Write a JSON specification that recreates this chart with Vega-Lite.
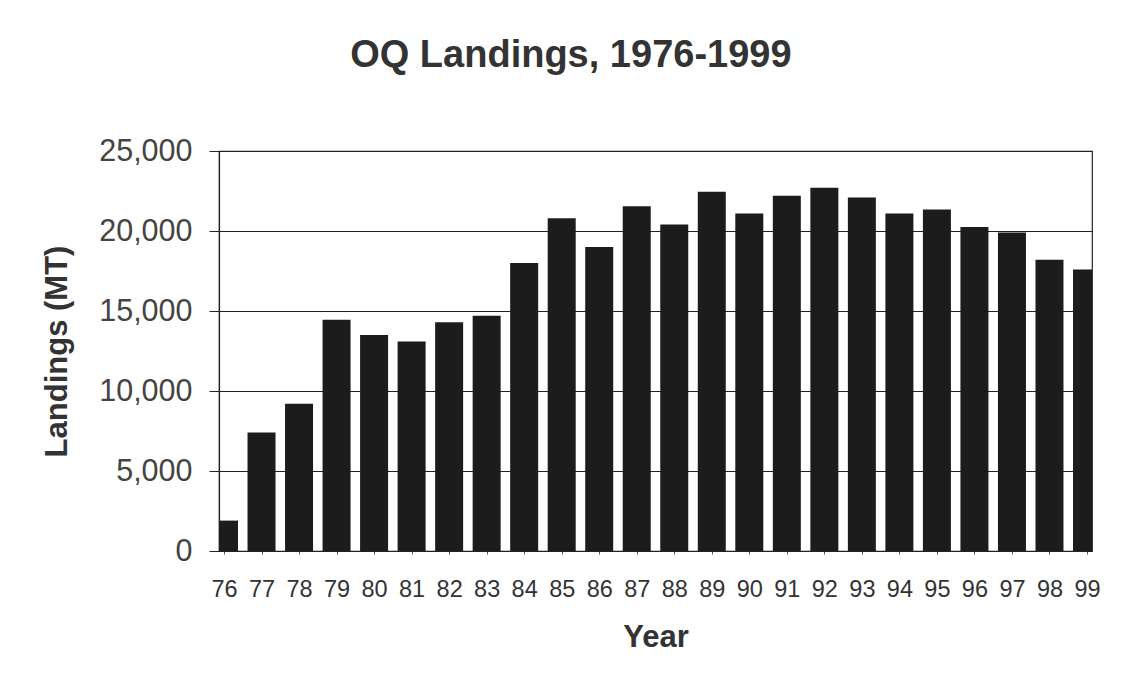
{
  "$schema": "https://vega.github.io/schema/vega-lite/v6.json",
  "width": 873,
  "height": 400,
  "padding": {"left": 41, "top": 37, "right": 40, "bottom": 30},
  "background": "white",
  "title": {
    "text": "OQ Landings, 1976-1999",
    "anchor": "middle",
    "frame": "bounds",
    "font": "Liberation Sans",
    "fontSize": 38,
    "fontWeight": "bold",
    "color": "#333333",
    "offset": 61
  },
  "config": {
    "view": {"stroke": "#222222", "strokeWidth": 1.2},
    "font": "Liberation Sans"
  },
  "data": {
    "values": [
      {"year": 1976, "landings": 1900},
      {"year": 1977, "landings": 7400},
      {"year": 1978, "landings": 9200},
      {"year": 1979, "landings": 14450},
      {"year": 1980, "landings": 13500},
      {"year": 1981, "landings": 13100},
      {"year": 1982, "landings": 14300},
      {"year": 1983, "landings": 14700},
      {"year": 1984, "landings": 18000},
      {"year": 1985, "landings": 20800},
      {"year": 1986, "landings": 19000},
      {"year": 1987, "landings": 21550},
      {"year": 1988, "landings": 20400},
      {"year": 1989, "landings": 22450},
      {"year": 1990, "landings": 21100},
      {"year": 1991, "landings": 22200},
      {"year": 1992, "landings": 22700},
      {"year": 1993, "landings": 22100},
      {"year": 1994, "landings": 21100},
      {"year": 1995, "landings": 21350},
      {"year": 1996, "landings": 20250},
      {"year": 1997, "landings": 19900},
      {"year": 1998, "landings": 18200},
      {"year": 1999, "landings": 17600}
    ]
  },
  "mark": {"type": "bar", "size": 28, "color": "#1c1c1c", "clip": true},
  "encoding": {
    "x": {
      "field": "year",
      "type": "quantitative",
      "scale": {"domain": [1976, 1999], "nice": false, "zero": false},
      "axis": {
        "title": "Year",
        "values": [1976,1977,1978,1979,1980,1981,1982,1983,1984,1985,1986,1987,1988,1989,1990,1991,1992,1993,1994,1995,1996,1997,1998,1999],
        "format": "d",
        "labelExpr": "substring(datum.label, 2)",
        "labelFontSize": 23.5,
        "labelColor": "#333333",
        "labelPadding": 23,
        "tickSize": 3,
        "tickColor": "#555555",
        "domainColor": "#222222",
        "domainWidth": 1.2,
        "grid": false,
        "titleFontSize": 31,
        "titleFontWeight": "bold",
        "titleColor": "#333333",
        "titlePadding": 22
      }
    },
    "y": {
      "field": "landings",
      "type": "quantitative",
      "scale": {"domain": [0, 25000]},
      "axis": {
        "title": "Landings (MT)",
        "values": [0, 5000, 10000, 15000, 20000, 25000],
        "format": ",d",
        "labelFontSize": 30.5,
        "labelColor": "#444444",
        "labelPadding": 17,
        "tickSize": 10,
        "tickColor": "#222222",
        "domainColor": "#222222",
        "domainWidth": 1.2,
        "grid": true,
        "gridColor": "#222222",
        "gridWidth": 1.2,
        "gridOpacity": 1,
        "titleFontSize": 31,
        "titleFontWeight": "bold",
        "titleColor": "#333333",
        "titlePadding": 25
      }
    }
  }
}
